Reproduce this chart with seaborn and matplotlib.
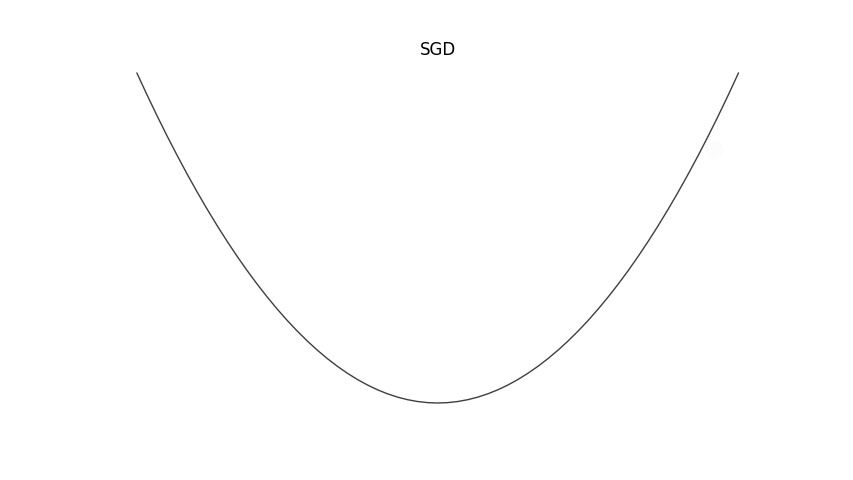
import numpy as np
import pandas as pd
import matplotlib
matplotlib.use("Agg")
import matplotlib.pyplot as plt
import seaborn as sns

# loss curve points
xs = [-3.0, -2.9, -2.8, -2.7, -2.6, -2.5, -2.4, -2.3, -2.2, -2.1,
      -2.0, -1.9, -1.8, -1.7, -1.6, -1.5, -1.4, -1.3, -1.2, -1.1,
      -1.0, -0.9, -0.8, -0.7, -0.6, -0.5, -0.4, -0.3, -0.2, -0.1,
      0.0,
      0.1, 0.2, 0.3, 0.4, 0.5, 0.6, 0.7, 0.8, 0.9, 1.0,
      1.1, 1.2, 1.3, 1.4, 1.5, 1.6, 1.7, 1.8, 1.9, 2.0,
      2.1, 2.2, 2.3, 2.4, 2.5, 2.6, 2.7, 2.8, 2.9, 3.0]
ys = [9.0, 8.41, 7.84, 7.29, 6.76, 6.25, 5.76, 5.29, 4.84, 4.41,
      4.0, 3.61, 3.24, 2.89, 2.56, 2.25, 1.96, 1.69, 1.44, 1.21,
      1.0, 0.81, 0.64, 0.49, 0.36, 0.25, 0.16, 0.09, 0.04, 0.01,
      0.0,
      0.01, 0.04, 0.09, 0.16, 0.25, 0.36, 0.49, 0.64, 0.81, 1.0,
      1.21, 1.44, 1.69, 1.96, 2.25, 2.56, 2.89, 3.24, 3.61, 4.0,
      4.41, 4.84, 5.29, 5.76, 6.25, 6.76, 7.29, 7.84, 8.41, 9.0]
# faint marker (almost invisible) near the right branch
ball_x = [2.76]
ball_y = [6.9]
title = "SGD"

sns.set_theme(style="white")
plt.rcParams['font.family'] = ['DejaVu Sans']

df = pd.DataFrame({'x': xs, 'loss': ys})
fig, ax = plt.subplots(figsize=(8.54, 4.8), dpi=100)
fig.subplots_adjust(left=0.125, right=0.9, top=0.868, bottom=0.11)

sns.lineplot(data=df, x='x', y='loss', ax=ax, color='#3f3f3f', linewidth=1.0,
             estimator=None, sort=False)
ax.scatter(ball_x, ball_y, s=170, color='#fcfcfc', edgecolors='none', zorder=1)

ax.set_xlim(-3.3, 3.3)
ax.set_ylim(-0.66, 9.26)
ax.set_title(title, fontsize=12, color='black')
ax.axis('off')

fig.savefig('out.png', dpi=100)
